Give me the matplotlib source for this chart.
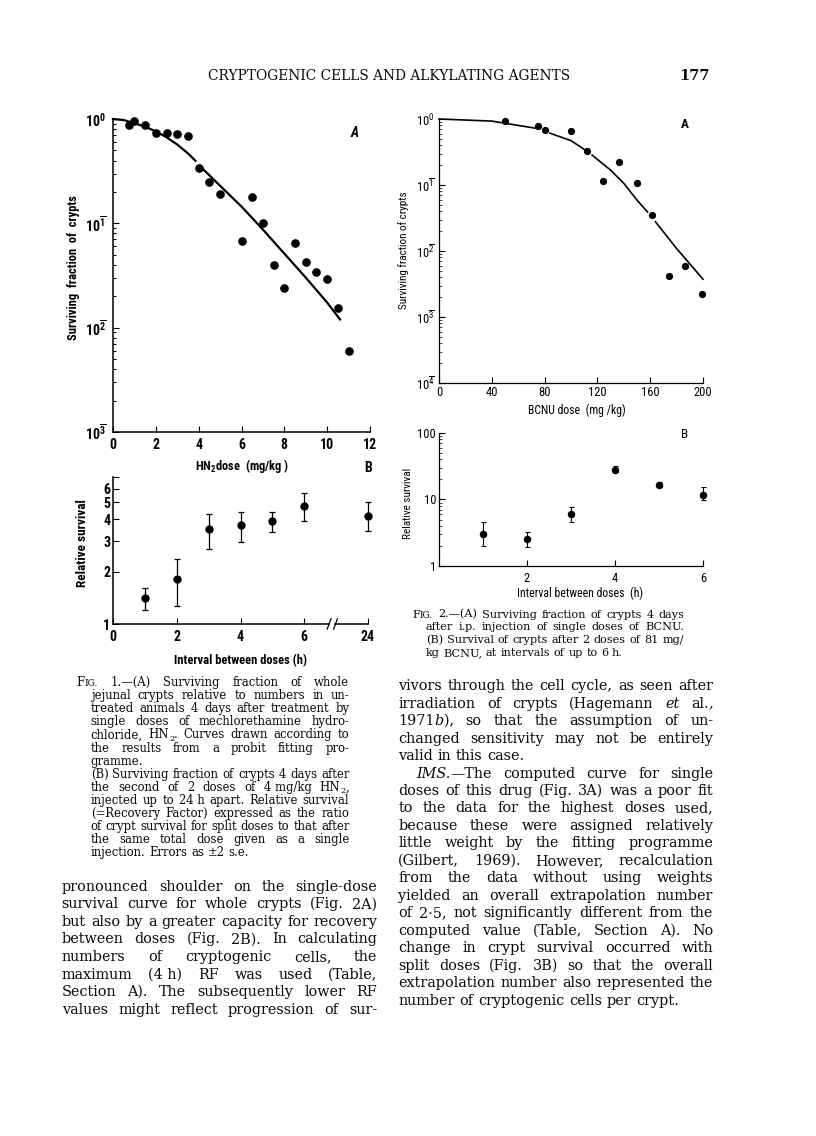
"""
Recreate page 177: crypt survival after HN2 and BCNU (Figs 1 and 2) with the surrounding text.
"""

import numpy as np
import matplotlib
matplotlib.use('Agg')
import matplotlib.pyplot as plt
import matplotlib.transforms as mtransforms
from matplotlib.font_manager import FontProperties, fontManager
from matplotlib.ticker import LogLocator, NullFormatter, NullLocator

W, H = 816, 1136
nan = np.nan

# Fig. 1A - single doses of HN2
hn2_dose = [0.75, 1.0, 1.5, 2.0, 2.5, 3.0, 3.5, 4.0, 4.5, 5.0, 6.0, 6.5,
            7.0, 7.5, 8.0, 8.5, 9.0, 9.5, 10.0, 10.5, 11.0]
hn2_surv = [0.88, 0.95, 0.88, 0.73, 0.74, 0.72, 0.69, 0.34, 0.25, 0.19, 0.068, 0.177,
            0.100, 0.040, 0.024, 0.065, 0.043, 0.034, 0.029, 0.0156, 0.0060]
hn2_fit_dose = [0, 0.5, 1, 1.5, 2, 2.5, 3, 3.5, 3.85, nan, 4.15, 5, 6, 7, 8, 9, 10, 10.6]
hn2_fit_surv = [1.0, 0.977, 0.912, 0.841, 0.762, 0.668, 0.569, 0.468, 0.398, nan,
                0.339, 0.229, 0.145, 0.0871, 0.0513, 0.0302, 0.0174, 0.0120]

# Fig. 1B - two doses of 4 mg/kg HN2
hn2_interval = [1, 2, 3, 4, 5, 6, 24]
hn2_rs = [1.42, 1.81, 3.53, 3.69, 3.89, 4.77, 4.19]
hn2_rs_hi = [1.60, 2.35, 4.29, 4.42, 4.42, 5.68, 5.05]
hn2_rs_lo = [1.20, 1.27, 2.70, 2.96, 3.37, 3.89, 3.42]
hn2_xticks = [0, 2, 4, 6, 24]

# Fig. 2A - single doses of BCNU
bcnu_dose = [50, 75, 80, 100, 112, 124, 136, 150, 161, 174, 186, 199]
bcnu_surv = [0.94, 0.79, 0.68, 0.66, 0.327, 0.116, 0.225, 0.108, 0.0354, 0.00415,
             0.00596, 0.00221]
bcnu_fit_dose = [0, 40, 74, nan, 84, 100, 110, nan, 116, 130, 140, 150, 158, nan,
                 164, 180, 200]
bcnu_fit_surv = [1.0, 0.93, 0.72, nan, 0.61, 0.47, 0.347, nan, 0.284, 0.168, 0.106,
                 0.059, 0.039, nan, 0.0277, 0.0109, 0.00374]

# Fig. 2B - two doses of 81 mg/kg BCNU
bcnu_interval = [1, 2, 3, 4, 5, 6]
bcnu_rs = [3.05, 2.53, 5.97, 28.2, 16.8, 11.7]
bcnu_rs_hi = [4.57, 3.23, 7.79, 31.4, 18.4, 15.3]
bcnu_rs_lo = [1.98, 1.94, 4.57, 25.5, 15.3, 9.8]

bar_exp = {1: r'10^{0}', 0.1: r'10^{\overline{1}}', 0.01: r'10^{\overline{2}}',
           0.001: r'10^{\overline{3}}', 0.0001: r'10^{\overline{4}}'}

# text of the page (* italic, ^ small caps, ~ subscript, _ fixed space)
header = "CRYPTOGENIC CELLS AND ALKYLATING AGENTS"
page_no = "177"

cap1_lines = [
    "F^IG.^ 1.—(A) Surviving fraction of whole",
    "jejunal crypts relative to numbers in un-",
    "treated animals 4 days after treatment by",
    "single doses of mechlorethamine hydro-",
    "chloride, HN~2~. Curves drawn according to",
    "the results from a probit fitting pro-",
    "gramme.",
    "(B) Surviving fraction of crypts 4 days after",
    "the second of 2 doses of 4_mg/kg HN~2~,",
    "injected up to 24_h apart. Relative survival",
    "(=Recovery Factor) expressed as the ratio",
    "of crypt survival for split doses to that after",
    "the same total dose given as a single",
    "injection. Errors as ±2 s.e.",
]
cap1_ends = [6, 13]

cap2_lines = [
    "F^IG.^ 2.—(A) Surviving fraction of crypts 4 days",
    "after i.p. injection of single doses of BCNU.",
    "(B) Survival of crypts after 2 doses of 81 mg/",
    "kg BCNU, at intervals of up to 6 h.",
]
cap2_ends = [3]

left_lines = [
    "pronounced shoulder on the single-dose",
    "survival curve for whole crypts (Fig. 2A)",
    "but also by a greater capacity for recovery",
    "between doses (Fig. 2B). In calculating",
    "numbers of cryptogenic cells, the",
    "maximum (4_h) RF was used (Table,",
    "Section A). The subsequently lower RF",
    "values might reflect progression of sur-",
]
left_ends = []

right_lines = [
    "vivors through the cell cycle, as seen after",
    "irradiation of crypts (Hagemann *et al.*,",
    "1971*b*), so that the assumption of un-",
    "changed sensitivity may not be entirely",
    "valid in this case.",
    "*IMS.*—The computed curve for single",
    "doses of this drug (Fig. 3A) was a poor fit",
    "to the data for the highest doses used,",
    "because these were assigned relatively",
    "little weight by the fitting programme",
    "(Gilbert, 1969). However, recalculation",
    "from the data without using weights",
    "yielded an overall extrapolation number",
    "of 2·5, not significantly different from the",
    "computed value (Table, Section A). No",
    "change in crypt survival occurred with",
    "split doses (Fig. 3B) so that the overall",
    "extrapolation number also represented the",
    "number of cryptogenic cells per crypt.",
]
right_ends = [4, 18]


names = {f.name for f in fontManager.ttflist}


def pick(*cands):
    for c in cands:
        if c in names:
            return c
    return 'DejaVu Sans'


NARROW = pick('Liberation Sans Narrow', 'Roboto Condensed', 'DejaVu Sans Condensed',
              'Liberation Sans')
SERIF = pick('DejaVu Serif', 'Liberation Serif')

plt.rcParams['font.family'] = [NARROW, 'DejaVu Sans']
plt.rcParams['mathtext.fontset'] = 'custom'
plt.rcParams['mathtext.rm'] = NARROW
plt.rcParams['mathtext.bf'] = NARROW + ':bold'
plt.rcParams['mathtext.it'] = NARROW + ':italic'

fig = plt.figure(figsize=(W / 100, H / 100), dpi=100)
fig.patch.set_facecolor('white')
renderer = fig.canvas.get_renderer()


def fx(x):
    return x / W


def fy(y):
    return 1 - y / H


def add_ax(l, t, r, b):
    return fig.add_axes([fx(l), fy(b), (r - l) / W, (b - t) / H])


def style(ax, lw=1.0):
    for s in ('top', 'right'):
        ax.spines[s].set_visible(False)
    for s in ('left', 'bottom'):
        ax.spines[s].set_linewidth(lw)
    ax.patch.set_alpha(0)
    ax.tick_params(which='both', direction='in', width=0.8, colors='black')
    ax.tick_params(which='major', length=4)
    ax.tick_params(which='minor', length=2.2)


# ---------------- Fig. 1A ----------------
ax = add_ax(113, 119, 370, 432)
style(ax, 1.1)
ax.set_yscale('log')
ax.set_xlim(0, 12)
ax.set_ylim(1e-3, 1)
ax.plot(hn2_fit_dose, hn2_fit_surv, color='black', lw=1.6, clip_on=False)
ax.plot(hn2_dose, hn2_surv, 'o', color='black', ms=5.2, clip_on=False)
ax.set_xticks(range(0, 13, 2))
ax.set_xticklabels([str(v) for v in range(0, 13, 2)], fontsize=10, fontweight='bold')
yt = [1e-3, 1e-2, 1e-1, 1]
ax.set_yticks(yt)
ax.set_yticklabels([r'$\mathbf{%s}$' % bar_exp[round(v, 4) if v < 1 else 1] for v in yt],
                   fontsize=10)
ax.yaxis.set_minor_locator(LogLocator(subs=np.arange(2, 10)))
ax.yaxis.set_minor_formatter(NullFormatter())
ax.tick_params(axis='x', pad=4)
ax.tick_params(axis='y', pad=5)
fig.text(fx(73), fy(268), 'Surviving  fraction  of  crypts', rotation=90, ha='center',
         va='center', fontsize=9, fontweight='bold')
fig.text(fx(242), fy(466), r'$\mathbf{HN_{2}}$dose  (mg/kg )', ha='center',
         va='center', fontsize=9, fontweight='bold')
fig.text(fx(355), fy(133), 'A', ha='center', va='center', fontsize=10,
         fontweight='bold', style='italic')

# ---------------- Fig. 1B ----------------
def hn2_pos(h):
    # broken axis: 0-6 h linear, 24 h drawn two units further on
    return h if h <= 6 else 8


ax = add_ax(113, 477, 368, 624)
style(ax, 1.1)
ax.set_yscale('log')
ax.set_xlim(0, 8)
ax.set_ylim(1, 7)
xs = [hn2_pos(h) for h in hn2_interval]
err = [np.array(hn2_rs) - np.array(hn2_rs_lo), np.array(hn2_rs_hi) - np.array(hn2_rs)]
ax.errorbar(xs, hn2_rs, yerr=err, fmt='o', color='black', ms=5, elinewidth=0.9,
            capsize=2.5, capthick=0.9, clip_on=False)
ax.set_xticks([hn2_pos(h) for h in hn2_xticks])
ax.set_xticklabels([str(h) for h in hn2_xticks], fontsize=10, fontweight='bold')
ax.set_yticks([1, 2, 3, 4, 5, 6, 7])
ax.set_yticklabels(['1', '2', '3', '4', '5', '6', ''], fontsize=10, fontweight='bold')
ax.yaxis.set_minor_locator(NullLocator())
ax.tick_params(axis='x', pad=4)
ax.tick_params(axis='y', pad=2)
ax.spines['bottom'].set_visible(False)
blend = mtransforms.blended_transform_factory(ax.transData, ax.transAxes)
ax.plot([0, 6.78], [0, 0], color='black', lw=1.1, transform=blend, clip_on=False)
ax.plot([6.98, 8], [0, 0], color='black', lw=1.1, transform=blend, clip_on=False)
for xb in (6.78, 6.98):
    ax.plot([xb - 0.06, xb + 0.06], [-0.035, 0.035], color='black', lw=0.9,
            transform=blend, clip_on=False)
fig.text(fx(82), fy(543), 'Relative survival', rotation=90, ha='center', va='center',
         fontsize=9.5, fontweight='bold')
fig.text(fx(241), fy(661), 'Interval between doses (h)', ha='center', va='center',
         fontsize=9, fontweight='bold')
fig.text(fx(368), fy(468), 'B', ha='center', va='center', fontsize=10, fontweight='bold')

# ---------------- Fig. 2A ----------------
ax = add_ax(439, 119, 703, 383)
style(ax, 0.9)
ax.set_yscale('log')
ax.set_xlim(0, 200)
ax.set_ylim(1e-4, 1)
ax.plot(bcnu_fit_dose, bcnu_fit_surv, color='black', lw=1.2, clip_on=False)
ax.plot(bcnu_dose, bcnu_surv, 'o', color='black', ms=4.2, clip_on=False)
ax.set_xticks(range(0, 201, 40))
ax.set_xticklabels([str(v) for v in range(0, 201, 40)], fontsize=9)
yt = [1e-4, 1e-3, 1e-2, 1e-1, 1]
ax.set_yticks(yt)
ax.set_yticklabels([r'$%s$' % bar_exp[round(v, 4) if v < 1 else 1] for v in yt],
                   fontsize=9)
ax.yaxis.set_minor_locator(LogLocator(subs=np.arange(2, 10)))
ax.yaxis.set_minor_formatter(NullFormatter())
ax.tick_params(which='minor', width=0.5, length=1.8)
ax.tick_params(axis='x', pad=2)
ax.tick_params(axis='y', pad=3)
fig.text(fx(404), fy(250), 'Surviving fraction of crypts', rotation=90, ha='center',
         va='center', fontsize=8)
fig.text(fx(577), fy(410), 'BCNU dose  (mg /kg)', ha='center', va='center', fontsize=8.5)
fig.text(fx(685), fy(125), 'A', ha='center', va='center', fontsize=9.5, fontweight='bold')

# ---------------- Fig. 2B ----------------
ax = add_ax(439, 433, 703, 566)
style(ax, 0.9)
ax.set_yscale('log')
ax.set_xlim(0, 6)
ax.set_ylim(1, 100)
err = [np.array(bcnu_rs) - np.array(bcnu_rs_lo), np.array(bcnu_rs_hi) - np.array(bcnu_rs)]
ax.errorbar(bcnu_interval, bcnu_rs, yerr=err, fmt='o', color='black', ms=4.4,
            elinewidth=0.8, capsize=1.8, capthick=0.8, clip_on=False)
ax.set_xticks([2, 4, 6])
ax.set_xticklabels(['2', '4', '6'], fontsize=9)
ax.set_yticks([1, 10, 100])
ax.set_yticklabels(['1', '10', '100'], fontsize=9)
ax.yaxis.set_minor_locator(LogLocator(subs=np.arange(2, 10)))
ax.yaxis.set_minor_formatter(NullFormatter())
ax.tick_params(which='minor', width=0.5, length=1.8)
ax.tick_params(axis='x', pad=4)
ax.tick_params(axis='y', pad=2)
fig.text(fx(408), fy(503), 'Relative survival', rotation=90, ha='center', va='center',
         fontsize=8)
fig.text(fx(580), fy(593), 'Interval between doses  (h)', ha='center', va='center',
         fontsize=8.5)
fig.text(fx(685), fy(434), 'B', ha='center', va='center', fontsize=9.5)


# ---------------- justified page text ----------------
def parse(word):
    segs, st, buf = [], 'n', ''
    marks = {'*': 'i', '^': 's', '~': 'b'}
    for ch in word:
        if ch in marks:
            if buf:
                segs.append((buf, st))
            buf = ''
            st = 'n' if st == marks[ch] else marks[ch]
        else:
            buf += ch
    if buf:
        segs.append((buf, st))
    return [(s.replace('_', ' '), t) for s, t in segs]


def fprop(st, size):
    if st == 'i':
        return FontProperties(family=SERIF, style='italic', size=size)
    if st == 's':
        return FontProperties(family=SERIF, size=size * 0.78)
    if st == 'b':
        return FontProperties(family=SERIF, size=size * 0.7)
    return FontProperties(family=SERIF, size=size)


def tw(s, fp):
    return renderer.get_text_width_height_descent(s, fp, ismath=False)[0]


def word_w(segs, size):
    return sum(tw(s, fprop(t, size)) for s, t in segs)


def space_w(size):
    fp = fprop('n', size)
    return tw('a a', fp) - tw('aa', fp)


def fit_size(lines, ends, x0s, x1):
    base = 10.0
    best = 1e9
    for i, line in enumerate(lines):
        if i in ends:
            continue
        words = [parse(w) for w in line.split()]
        nat = sum(word_w(w, base) for w in words) + space_w(base) * (len(words) - 1)
        best = min(best, (x1 - x0s[i]) / nat)
    return base * best


def draw_block(lines, ends, x0s, x1, y0, dy, size, lift):
    for i, line in enumerate(lines):
        words = [parse(w) for w in line.split()]
        widths = [word_w(w, size) for w in words]
        if i not in ends and len(words) > 1:
            gap = (x1 - x0s[i] - sum(widths)) / (len(words) - 1)
        else:
            gap = space_w(size)
        x = x0s[i]
        y = y0 + dy * i + lift
        for segs, w in zip(words, widths):
            xx = x
            for s, t in segs:
                fp = fprop(t, size)
                off = size * 0.3 if t == 'b' else 0
                fig.text(fx(xx), fy(y + off), s, fontproperties=fp, va='baseline',
                         ha='left', color='#0a0a0a')
                xx += tw(s, fp)
            x += w + gap


cap1_x = [76.7] + [90.7] * (len(cap1_lines) - 1)
cap2_x = [412.3] + [425.7] * (len(cap2_lines) - 1)
left_x = [61.7] * len(left_lines)
right_x = [398.3] * len(right_lines)
right_x[5] = 416.0

cap1_size = fit_size(cap1_lines, cap1_ends, cap1_x, 349.3)
cap2_size = fit_size(cap2_lines, cap2_ends, cap2_x, 684.0)
body_size = min(fit_size(left_lines, left_ends, left_x, 377.3),
                fit_size(right_lines, right_ends, right_x, 713.3))

draw_block(cap1_lines, cap1_ends, cap1_x, 349.3, 682.7, 13.07, cap1_size, 3.5)
draw_block(cap2_lines, cap2_ends, cap2_x, 684.0, 614.0, 12.75, cap2_size, 3.5)
draw_block(left_lines, left_ends, left_x, 377.3, 886.7, 17.52, body_size, 4.2)
draw_block(right_lines, right_ends, right_x, 713.3, 686.0, 17.47, body_size, 4.2)

# running head
hp = FontProperties(family=SERIF, size=10)
hsize = 10 * 250 / tw("CELLS AND ALKYLATING AGENTS", hp)
fig.text(fx(570), fy(79.5), header, ha='right', va='baseline', color='#0a0a0a',
         fontproperties=FontProperties(family=SERIF, size=hsize))
fig.text(fx(710), fy(79.5), page_no, ha='right', va='baseline', color='#0a0a0a',
         fontproperties=FontProperties(family=SERIF, size=10.5, weight='bold'))

fig.savefig('out.png', dpi=100, facecolor='white')
